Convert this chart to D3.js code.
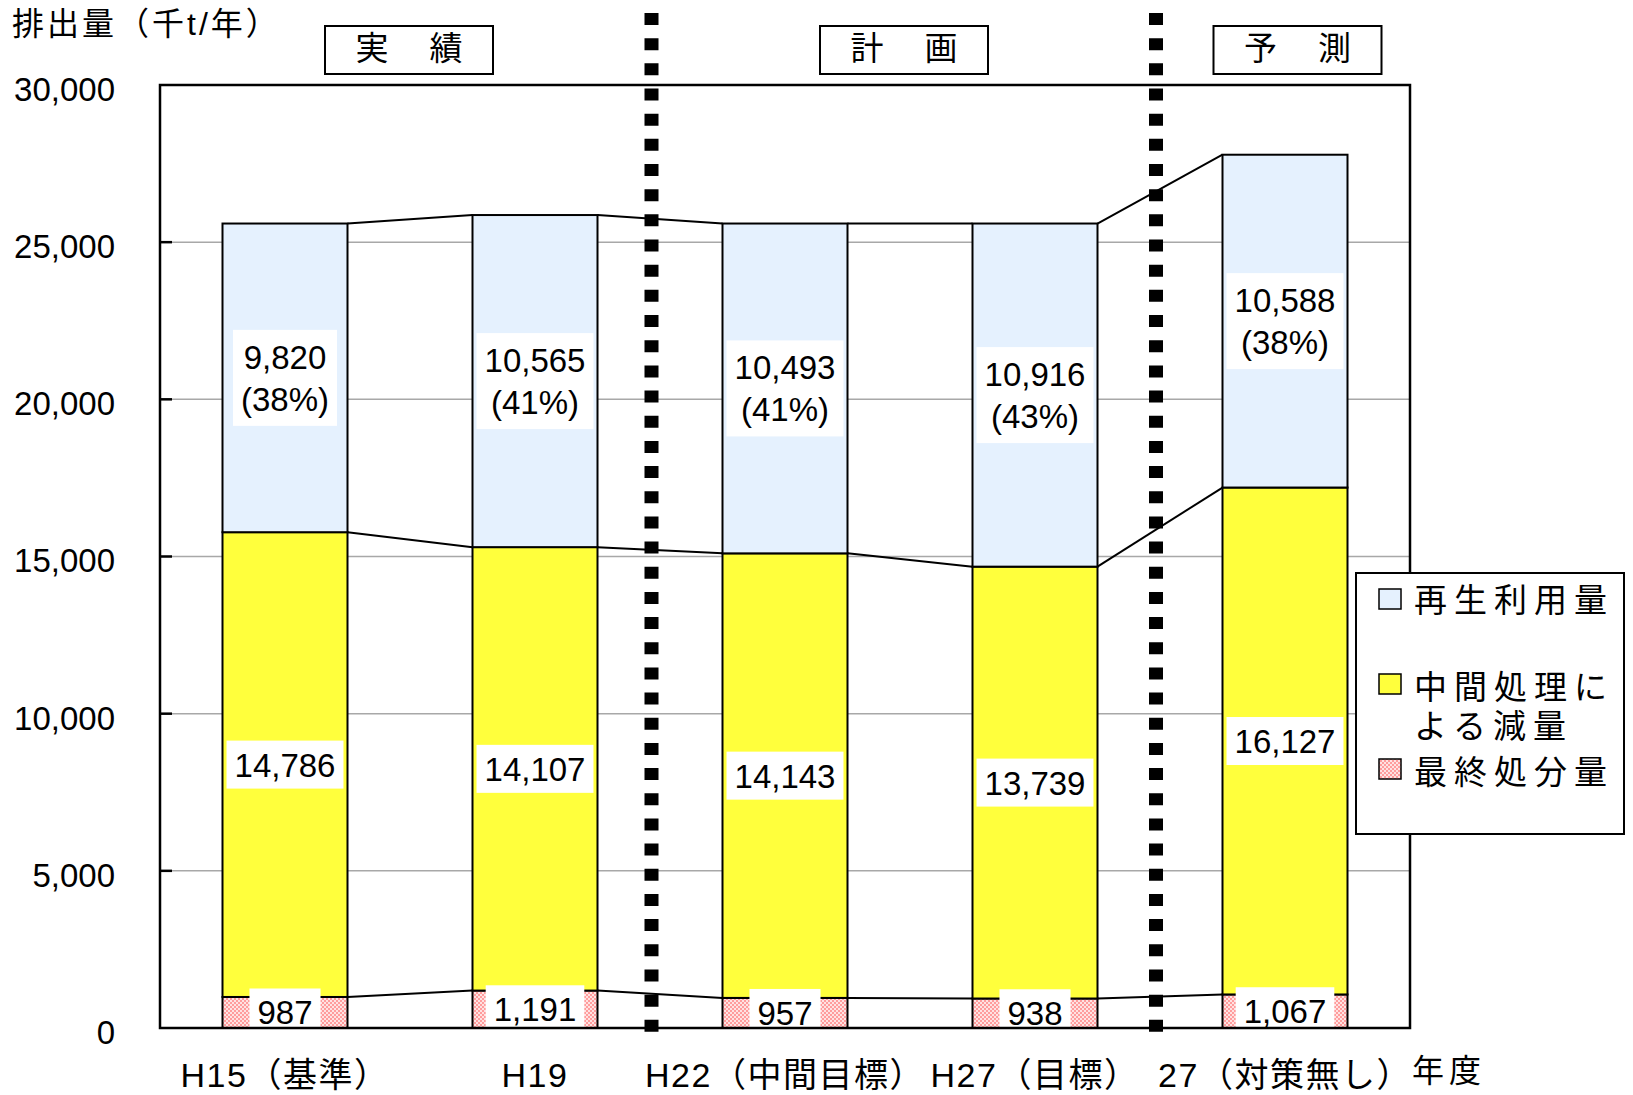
<!DOCTYPE html>
<html lang="ja">
<head>
<meta charset="utf-8">
<script src="https://cdn.jsdelivr.net/npm/d3@7"></script>
<style>
  html, body { margin: 0; padding: 0; background: #fff; }
  svg { display: block; }
</style>
</head>
<body>
<svg id="chart" width="1633" height="1095"></svg>
<script>
// ---- data (千t/年) ----
const categories = ["H15（基準）", "H19", "H22（中間目標）", "H27（目標）", "27（対策無し）"];
const finalDisposal = [987, 1191, 957, 938, 1067];
const intermediateReduction = [14786, 14107, 14143, 13739, 16127];
const recycled = [9820, 10565, 10493, 10916, 10588];
const recycledShare = ["38%", "41%", "41%", "43%", "38%"];
const yTicks = [0, 5000, 10000, 15000, 20000, 25000, 30000];
const seriesNames = ["最終処分量", "中間処理による減量", "再生利用量"];
const phaseLabels = ["実　績", "計　画", "予　測"];
const yTitle = "排出量（千t/年）";
const xTitle = "年度";

// ---- layout ----
const plot = { left: 160, right: 1410, top: 85, bottom: 1028 };
const NUM = "'Liberation Sans', 'Noto Sans CJK JP', sans-serif";
const JP = "'Noto Sans CJK JP', sans-serif";

const svg = d3.select("#chart");

const x = d3.scaleBand()
  .domain(categories)
  .range([plot.left, plot.right])
  .paddingInner(0.5)
  .paddingOuter(0.25);
const y = d3.scaleLinear().domain([0, 30000]).range([plot.bottom, plot.top]);
const bw = x.bandwidth();

// fills
const defs = svg.append("defs");
const pink = defs.append("pattern").attr("id", "pinkChk")
  .attr("width", 4).attr("height", 4).attr("patternUnits", "userSpaceOnUse");
pink.append("rect").attr("width", 4).attr("height", 4).attr("fill", "#ffe2e2");
pink.append("rect").attr("width", 2).attr("height", 2).attr("fill", "#ff9c9c");
pink.append("rect").attr("x", 2).attr("y", 2).attr("width", 2).attr("height", 2).attr("fill", "#ff9c9c");

const fills = {
  "最終処分量": "url(#pinkChk)",
  "中間処理による減量": "#ffff3c",
  "再生利用量": "#e5f1fe"
};

// stacked rows
const rows = categories.map((c, i) => ({
  cat: c,
  "最終処分量": finalDisposal[i],
  "中間処理による減量": intermediateReduction[i],
  "再生利用量": recycled[i]
}));
const stacked = d3.stack().keys(seriesNames)(rows);

// gridlines
svg.append("g").selectAll("line")
  .data(yTicks.filter(t => t > 0 && t < 30000))
  .join("line")
  .attr("x1", plot.left).attr("x2", plot.right)
  .attr("y1", d => y(d)).attr("y2", d => y(d))
  .attr("stroke", "#a8a8a8").attr("stroke-width", 1.5);

// bars
const gBars = svg.append("g");
stacked.forEach(layer => {
  gBars.append("g").selectAll("rect")
    .data(layer)
    .join("rect")
    .attr("x", d => x(d.data.cat))
    .attr("width", bw)
    .attr("y", d => y(d[1]))
    .attr("height", d => y(d[0]) - y(d[1]))
    .attr("fill", fills[layer.key])
    .attr("stroke", "#000")
    .attr("stroke-width", 2);
});

// connectors between neighbouring bars at each stack boundary
const gConn = svg.append("g");
stacked.forEach(layer => {
  for (let i = 0; i < layer.length - 1; i++) {
    const a = layer[i], b = layer[i + 1];
    gConn.append("line")
      .attr("x1", x(a.data.cat) + bw).attr("y1", y(a[1]))
      .attr("x2", x(b.data.cat)).attr("y2", y(b[1]))
      .attr("stroke", "#000").attr("stroke-width", 2);
  }
});

// value labels on white boxes
const fmt = d3.format(",");
const gLab = svg.append("g");
function label(cx, cy, lines) {
  const g = gLab.append("g");
  const lh = 42;
  const t = g.append("text")
    .attr("font-family", NUM).attr("font-size", 33)
    .attr("text-anchor", "middle").attr("fill", "#000");
  lines.forEach((s, k) => {
    const lc = cy + (k - (lines.length - 1) / 2) * lh;
    t.append("tspan").attr("x", cx).attr("y", lc + 12).text(s);
  });
  const bb = t.node().getBBox();
  const h = 48 * lines.length;
  g.insert("rect", "text")
    .attr("x", cx - bb.width / 2 - 8).attr("width", bb.width + 16)
    .attr("y", cy - h / 2).attr("height", h)
    .attr("fill", "#fff");
}
stacked.forEach(layer => {
  layer.forEach((d, i) => {
    const cx = x(d.data.cat) + bw / 2;
    const cy = (y(d[0]) + y(d[1])) / 2;
    const v = d[1] - d[0];
    const lines = layer.key === "再生利用量" ? [fmt(v), "(" + recycledShare[i] + ")"] : [fmt(v)];
    label(cx, cy, lines);
  });
});

// plot frame
svg.append("rect")
  .attr("x", plot.left).attr("y", plot.top)
  .attr("width", plot.right - plot.left).attr("height", plot.bottom - plot.top)
  .attr("fill", "none").attr("stroke", "#000").attr("stroke-width", 2.5);

// y axis
const yAxis = d3.axisLeft(y).tickValues(yTicks).tickSize(0).tickPadding(0).tickFormat(fmt);
const gy = svg.append("g").attr("transform", `translate(115,0)`).call(yAxis);
gy.select(".domain").remove();
gy.selectAll("text")
  .attr("font-family", NUM).attr("font-size", 33).attr("fill", "#000")
  .attr("x", 0).attr("dy", "0.71em").attr("y", -8);
svg.append("g").selectAll("line")
  .data(yTicks.filter(t => t > 0 && t < 30000))
  .join("line")
  .attr("x1", plot.left).attr("x2", plot.left + 12)
  .attr("y1", d => y(d)).attr("y2", d => y(d))
  .attr("stroke", "#000").attr("stroke-width", 2.5);

// x axis labels
const xAxis = d3.axisBottom(x).tickSize(0).tickPadding(0);
const gx = svg.append("g").attr("transform", `translate(0,${plot.bottom})`).call(xAxis);
gx.select(".domain").remove();
gx.selectAll("text")
  .attr("font-family", NUM).attr("font-size", 34).attr("fill", "#000")
  .attr("letter-spacing", 1.5)
  .attr("dy", 0).attr("y", 59);

svg.append("text")
  .attr("x", plot.right + 2).attr("y", 1082)
  .attr("font-family", NUM).attr("font-size", 32).attr("letter-spacing", 5)
  .text(xTitle);

// y title
svg.append("text")
  .attr("x", 12).attr("y", 35)
  .attr("font-family", NUM).attr("font-size", 32).attr("letter-spacing", 3)
  .text(yTitle);

// phase dividers (dotted heavy lines)
const step = x.step();
const dividerAt = [1.466, 3.484];
const centre0 = x(categories[0]) + bw / 2;
svg.append("g").selectAll("line")
  .data(dividerAt)
  .join("line")
  .attr("x1", d => centre0 + d * step).attr("x2", d => centre0 + d * step)
  .attr("y1", 13).attr("y2", 1032)
  .attr("stroke", "#000").attr("stroke-width", 14)
  .attr("stroke-dasharray", "12 13.17");

// phase header boxes
const phaseAt = [0.496, 2.476, 4.05];
const gPh = svg.append("g");
phaseLabels.forEach((s, i) => {
  const cx = centre0 + phaseAt[i] * step;
  gPh.append("rect")
    .attr("x", cx - 84).attr("y", 26).attr("width", 168).attr("height", 48)
    .attr("fill", "#fff").attr("stroke", "#000").attr("stroke-width", 2);
  gPh.append("text")
    .attr("x", cx + 2).attr("y", 60)
    .attr("text-anchor", "middle")
    .attr("font-family", JP).attr("font-size", 33).attr("letter-spacing", 4)
    .text(s);
});

// legend
const lg = svg.append("g");
lg.append("rect")
  .attr("x", 1356).attr("y", 573).attr("width", 268).attr("height", 261)
  .attr("fill", "#fff").attr("stroke", "#000").attr("stroke-width", 2);
const legendItems = [
  { key: "再生利用量", lines: ["再生利用量"], sy: 589, ty: [599] },
  { key: "中間処理による減量", lines: ["中間処理に", "よる減量"], sy: 674, ty: [686, 725] },
  { key: "最終処分量", lines: ["最終処分量"], sy: 759, ty: [771] }
];
legendItems.forEach(it => {
  lg.append("rect")
    .attr("x", 1379).attr("y", it.sy).attr("width", 22).attr("height", 20)
    .attr("fill", fills[it.key]).attr("stroke", "#000").attr("stroke-width", 1.5);
  const t = lg.append("text")
    .attr("font-family", NUM).attr("font-size", 33).attr("letter-spacing", 7);
  it.lines.forEach((s, k) => {
    t.append("tspan").attr("x", 1414).attr("y", it.ty[k] + 12.5).text(s);
  });
});
</script>
</body>
</html>
